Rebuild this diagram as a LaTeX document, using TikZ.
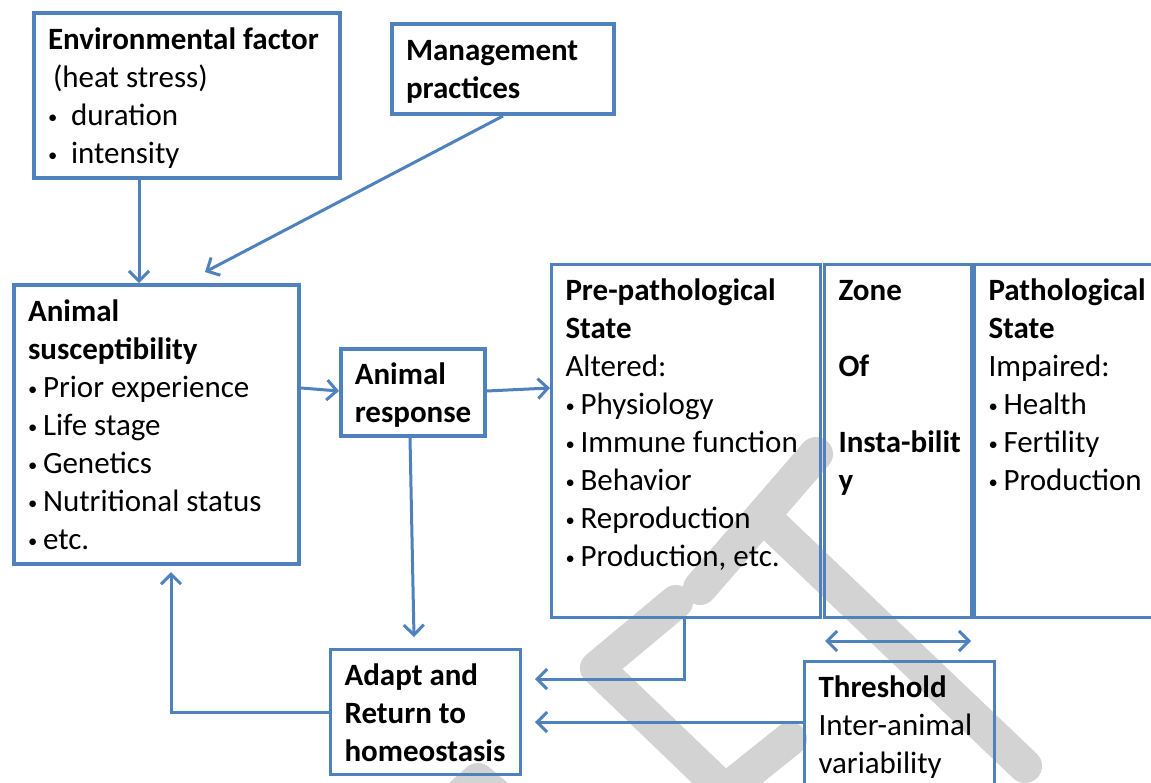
\documentclass[tikz,border=0pt]{standalone}
\usepackage{fontspec}
\setmainfont{Carlito}
\usepackage{xcolor}
\usetikzlibrary{arrows.meta}
\definecolor{Frame}{RGB}{79,129,189}
\definecolor{Mark}{RGB}{211,211,211}
% box text: width, height, lines (first baseline 18pt below the top)
\newcommand{\btxt}[3]{\parbox[t][#2][t]{#1}{\raggedright\leftskip=7pt\hyphenpenalty=10000\exhyphenpenalty=10000\rule{0pt}{18pt}#3}}
\newcommand{\bul}[1][7.5pt]{\makebox[#1][l]{\raisebox{1pt}{\scalebox{0.6}{•}}}}

\begin{document}
\begin{tikzpicture}[x=0.5pt, y=-0.5pt,
    font=\fontsize{15.5}{19}\selectfont,
    box/.style={draw=Frame, line width=1.5pt, inner sep=0pt, anchor=north west},
    heavy/.style={box, line width=2pt},
    arr/.style={draw=Frame, line width=1.5pt, -{Straight Barb[length=5pt,width=10pt]}},
    wmark/.style={draw=Mark, line width=17pt, line cap=round, line join=round}
  ]
  \useasboundingbox (0,0) rectangle (1151,782);
  \clip (0,0) rectangle (1151,782);

  % watermark
  \draw[wmark] (816,454) -- (700,588);
  \draw[wmark] (765,518) -- (1025,766);
  \draw[wmark] (676,602) -- (597,668) -- (725,791) -- (790,739);
  \draw[wmark] (440,814) -- (478,780) -- (522,817);

  \node[heavy] (env) at (32,11) {\btxt{153pt}{82.5pt}{\textbf{Environmental factor}\\\hspace*{2.5pt}(heat stress)\\\bul[11.5pt]duration\\\bul[11.5pt]intensity}};
  \node[heavy] (mgmt) at (390,22) {\btxt{111pt}{45pt}{\bfseries Management\\practices}};
  \node[heavy] (susc) at (12,283) {\btxt{142.5pt}{139.5pt}{\textbf{Animal}\\\textbf{susceptibility}\\\bul Prior experience\\\bul Life stage\\\bul Genetics\\\bul Nutritional status\\\bul etc.}};
  \node[box, line width=1.75pt] (resp) at (339,347) {\btxt{72pt}{43.5pt}{\bfseries Animal\\response}};
  \node[box] (prepath) at (550,263) {\btxt{134.5pt}{176.5pt}{\textbf{Pre-pathological}\\\textbf{State}\\Altered:\\\bul Physiology\\\bul Immune function\\\bul Behavior\\\bul Reproduction\\\bul Production, etc.}};
  \node[box] (zone) at (823,263) {\btxt{73.5pt}{176.5pt}{\bfseries Zone\\[19pt]Of\\[19pt]Insta-bilit\\y}};
  \node[box] (path) at (973,263) {\btxt{95pt}{176.5pt}{\textbf{Pathological}\\\textbf{State}\\Impaired:\\\bul Health\\\bul Fertility\\\bul Production}};
  \node[box] (adapt) at (329,648) {\btxt{95pt}{62.5pt}{\bfseries Adapt and\\Return to\\homeostasis}};
  \node[box] (thresh) at (803,660) {\btxt{95pt}{70pt}{\textbf{Threshold}\\Inter-animal\\variability}};

  \draw[arr] ([shift={(107,0)}]env.south west) -- ([shift={(127,0)}]susc.north west);
  \draw[arr] (mgmt.south) -- ([shift={(193,-11)}]susc.north west);
  \draw[arr] ([shift={(0,105)}]susc.north east) -- ([shift={(0,44)}]resp.north west);
  \draw[arr] ([shift={(0,44)}]resp.north east) -- ([shift={(0,125)}]prepath.north west);
  \draw[arr] ([shift={(71,0)}]resp.south west) -- ([shift={(85,-11)}]adapt.north west);
  \draw[arr] ([shift={(134,0)}]prepath.south west) |- ([shift={(13,31)}]adapt.north east);
  \draw[arr] ([shift={(0,62)}]thresh.north west) -- ([shift={(13,74)}]adapt.north east);
  \draw[arr] ([shift={(0,64)}]adapt.north west) -| ([shift={(159,6)}]susc.south west);
  \draw[arr, {Straight Barb[length=5pt,width=10pt]}-{Straight Barb[length=5pt,width=10pt]}] ([shift={(2,22)}]zone.south west) -- ([shift={(-2,22)}]zone.south east);
\end{tikzpicture}
\end{document}
